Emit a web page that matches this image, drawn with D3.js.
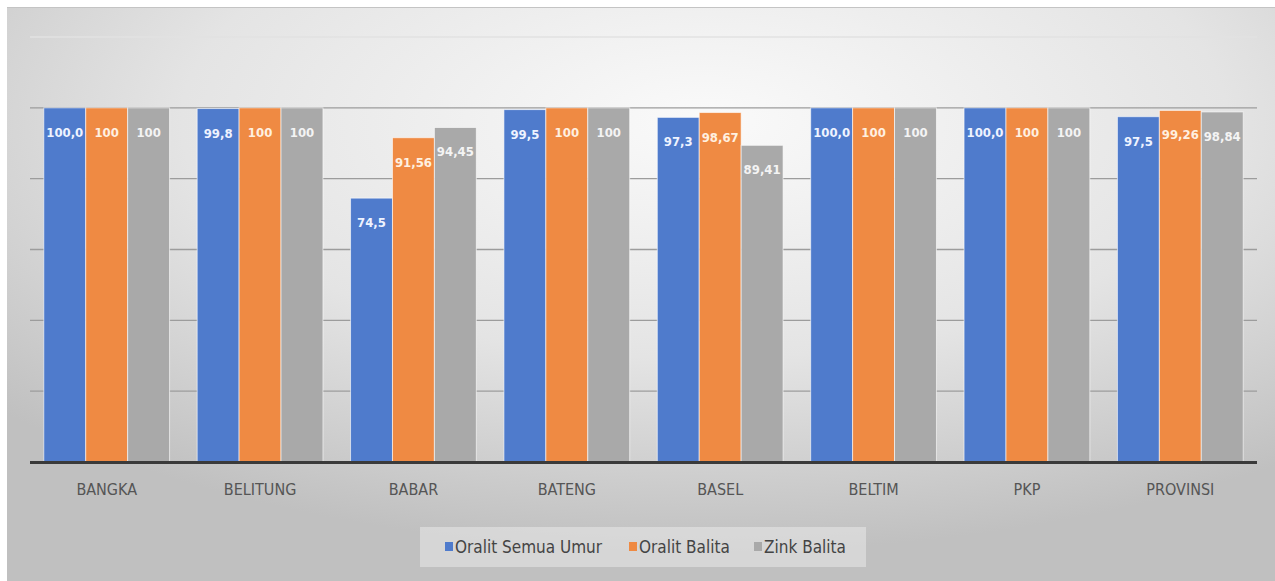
<!DOCTYPE html>
<html><head><meta charset="utf-8">
<script src="https://cdn.jsdelivr.net/npm/d3@7"></script>
<style>html,body{margin:0;padding:0;background:#fff;}svg{display:block;}</style>
</head><body>
<svg id="chart" width="1275" height="581"></svg>
<script>
const categories = ["BANGKA","BELITUNG","BABAR","BATENG","BASEL","BELTIM","PKP","PROVINSI"];
const seriesNames = ["Oralit Semua Umur","Oralit Balita","Zink Balita"];
const oralitSemuaUmur = [100.0, 99.8, 74.5, 99.5, 97.3, 100.0, 100.0, 97.5];
const oralitBalita = [100, 100, 91.56, 100, 98.67, 100, 100, 99.26];
const zinkBalita = [100, 100, 94.45, 100, 89.41, 100, 100, 98.84];
const yTicks = [0, 20, 40, 60, 80, 100, 120];
const colors = ["#4f7bcc", "#ef8a43", "#a9a9a9"];
const labelColors = ["#eef3ff", "#fff0e0", "#f4f4f4"];
const seriesValues = [oralitSemuaUmur, oralitBalita, zinkBalita];

(function(){
const svg = d3.select("#chart");
const W = 1275, H = 581;
const defs = svg.append("defs");
const grad = defs.append("radialGradient").attr("id","bg")
  .attr("cx","0.55").attr("cy","0.2").attr("r","0.75");
grad.append("stop").attr("offset","0%").attr("stop-color","#fafafa");
grad.append("stop").attr("offset","55%").attr("stop-color","#e4e4e4");
grad.append("stop").attr("offset","100%").attr("stop-color","#c0c0c0");

svg.append("rect").attr("x",7).attr("y",7).attr("width",W-7).attr("height",H-7).attr("fill","url(#bg)");
svg.append("line").attr("x1",7).attr("x2",W).attr("y1",7.5).attr("y2",7.5).attr("stroke","#c4c4c4");

const pLeft = 30, pRight = 1257, pTop = 37, pBottom = 462;
const x0 = d3.scaleBand().domain(categories).range([pLeft, pRight]).paddingInner(0.18).paddingOuter(0.09);
const x1 = d3.scaleBand().domain(seriesNames).range([0, x0.bandwidth()]).padding(0);
const y = d3.scaleLinear().domain([0, 120]).range([pBottom, pTop]);

svg.append("g").selectAll("line").data(yTicks.filter(t => t > 0)).join("line")
  .attr("x1", pLeft).attr("x2", pRight)
  .attr("y1", d => y(d)).attr("y2", d => y(d))
  .attr("stroke", d => d === 120 ? "#e2e2e2" : "#9c9c9c").attr("stroke-width", 1.4);

const groups = svg.append("g").selectAll("g").data(categories).join("g")
  .attr("transform", d => `translate(${x0(d)},0)`);

const fmt = (v, si) => si === 0 ? d3.format(".1f")(v).replace(".", ",") : String(v).replace(".", ",");

groups.each(function(cat, ci) {
  const g = d3.select(this);
  seriesNames.forEach((s, si) => {
    const v = seriesValues[si][ci];
    g.append("rect").attr("x", x1(s)).attr("y", y(v))
      .attr("width", x1.bandwidth()).attr("height", y(0) - y(v))
      .attr("fill", colors[si]).attr("stroke", "rgba(255,255,255,0.6)").attr("stroke-width", 1);
    g.append("text").attr("x", x1(s) + x1.bandwidth()/2).attr("y", y(v) + 29)
      .attr("text-anchor", "middle").attr("fill", labelColors[si])
      .style("font-family", "'DejaVu Sans Condensed',sans-serif")
      .style("font-size", "13px").style("font-weight", "600")
      .text(fmt(v, si));
  });
});

svg.append("line").attr("x1", pLeft).attr("x2", pRight).attr("y1", pBottom + 0.5).attr("y2", pBottom + 0.5)
  .attr("stroke", "#3a3a3a").attr("stroke-width", 3);

const xAxis = svg.append("g").attr("transform", `translate(0,${pBottom})`).call(d3.axisBottom(x0).tickSize(0).tickPadding(22));
xAxis.select(".domain").remove();
xAxis.selectAll("text").attr("fill", "#555")
  .style("font-family", "'Liberation Sans Narrow','DejaVu Sans Condensed',sans-serif").style("font-size", "16px");

svg.append("rect").attr("x", 420).attr("y", 527).attr("width", 446).attr("height", 40).attr("fill", "#f2f2f2").attr("opacity", 0.45);
const legendX = [445, 629, 754];
const lg = svg.append("g").selectAll("g").data(seriesNames).join("g")
  .attr("transform", (d, i) => `translate(${legendX[i]},547)`);
lg.append("rect").attr("x", 0).attr("y", -5).attr("width", 8).attr("height", 9).attr("fill", (d, i) => colors[i]);
lg.append("text").attr("x", 10).attr("y", 6).text(d => d).attr("fill", "#444")
  .style("font-family", "'Liberation Sans Narrow','DejaVu Sans Condensed',sans-serif").style("font-size", "17px");
})();
</script>
</body></html>
